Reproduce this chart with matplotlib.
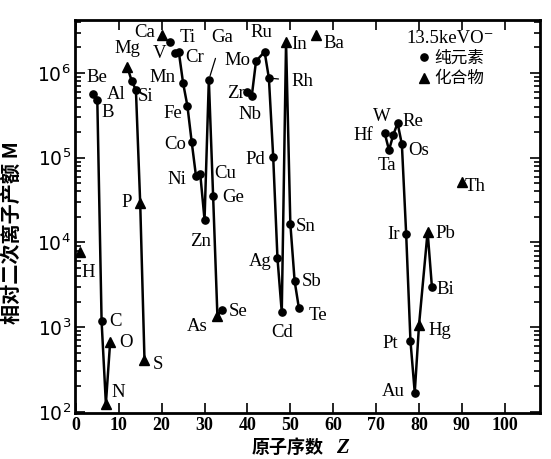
import matplotlib
matplotlib.use('Agg')
import matplotlib.pyplot as plt
from matplotlib.lines import Line2D
from matplotlib.ticker import LogLocator, FixedLocator

# ---------------- data ----------------
elements = ['H', 'Be', 'B', 'C', 'N', 'O', 'Mg', 'Al', 'Si', 'P', 'S',
            'Ca', 'Ti', 'V', 'Cr', 'Mn', 'Fe', 'Co', 'Ni', 'Cu', 'Zn', 'Ga', 'Ge', 'As', 'Se',
            'Zr', 'Nb', 'Mo', 'Ru', 'Rh', 'Pd', 'Ag', 'Cd', 'In', 'Sn', 'Sb', 'Te',
            'Ba', 'Hf', 'Ta', 'W', 'Re', 'Os', 'Ir', 'Pt', 'Au', 'Hg', 'Pb', 'Bi', 'Th']
z = [1, 4, 5, 6, 7, 8, 12, 13, 14, 15, 16,
     20, 22, 23, 24, 25, 26, 27, 28, 29, 30, 31, 32, 33, 34,
     40, 41, 42, 44, 45, 46, 47, 48, 49, 50, 51, 52,
     56, 72, 73, 74, 75, 76, 77, 78, 79, 80, 82, 83, 90]
m = [7.8e3, 5.7e5, 4.8e5, 1.17e3, 1.25e2, 6.75e2, 1.18e6, 8.1e5, 6.3e5, 2.9e4, 4.1e2,
     2.8e6, 2.3e6, 1.74e6, 1.77e6, 7.6e5, 4.1e5, 1.54e5, 6.1e4, 6.4e4, 1.85e4, 8.3e5, 3.5e4, 1.35e3, 1.6e3,
     6.0e5, 5.3e5, 1.38e6, 1.78e6, 8.7e5, 1.03e5, 6.5e3, 1.5e3, 2.3e6, 1.66e4, 3.5e3, 1.67e3,
     2.8e6, 1.95e5, 1.23e5, 1.86e5, 2.56e5, 1.44e5, 1.26e4, 6.9e2, 1.69e2, 1.06e3, 1.34e4, 3.0e3, 5.2e4]
compounds = ['H', 'N', 'O', 'Mg', 'P', 'S', 'Ca', 'As', 'In', 'Ba', 'Hg', 'Pb', 'Th']
chains = [
    ['Be', 'B', 'C', 'N', 'O'],
    ['Mg', 'Al', 'Si', 'P', 'S'],
    ['V', 'Cr', 'Mn', 'Fe', 'Co', 'Ni', 'Cu', 'Zn', 'Ga', 'Ge', 'As', 'Se'],
    ['Zr', 'Nb', 'Mo', 'Ru', 'Rh', 'Pd', 'Ag', 'Cd', 'In', 'Sn', 'Sb', 'Te'],
    ['Hf', 'Ta', 'W', 'Re', 'Os', 'Ir', 'Pt', 'Au', 'Hg', 'Pb', 'Bi'],
]
x_ticks = [0, 10, 20, 30, 40, 50, 60, 70, 80, 90, 100]
beam_label = '13.5keVO⁻'
legend_labels = ['纯元素', '化合物']
x_title = '原子序数'
x_symbol = 'Z'
y_title = '相对二次离子产额 M'

# ---------------- style ----------------
# label offsets in pixels (dx right, dy down)
offsets = {
    'H': (8, 21), 'Be': (4, -16), 'B': (10, 13), 'C': (14, 0), 'N': (12, -11), 'O': (16, 1),
    'Mg': (0, -18), 'Al': (-15, 14), 'Si': (10, 7), 'P': (-13, -1), 'S': (13, 5),
    'Ca': (-17, -3), 'Ti': (17, -5), 'V': (-15, 1), 'Cr': (16, 6), 'Mn': (-21, -6),
    'Fe': (-15, 8), 'Co': (-16, 3), 'Ni': (-19, 4), 'Cu': (25, -1), 'Zn': (-4, 22),
    'Ga': (13, -42), 'Ge': (20, 1), 'As': (-20, 10), 'Se': (16, 2),
    'Zr': (-12, 2), 'Nb': (-2, 18), 'Mo': (-19, -1), 'Ru': (-3, -19), 'Rh': (33, 3),
    'Pd': (-18, 3), 'Ag': (-17, 3), 'Cd': (0, 20), 'In': (13, 2), 'Sn': (15, 3),
    'Sb': (17, 0), 'Te': (19, 7), 'Ba': (18, 8), 'Hf': (-21, 2), 'Ta': (-2, 15),
    'W': (-11, -18), 'Re': (15, -2), 'Os': (17, 6), 'Ir': (-13, 1), 'Pt': (-20, 3),
    'Au': (-21, -1), 'Hg': (21, 5), 'Pb': (18, 2), 'Bi': (13, 3), 'Th': (13, 5),
}
leaders = ['Ga', 'Rh']
PX = 0.72  # points per pixel at dpi 100

plt.rcParams['mathtext.fontset'] = 'stix'
serif = ['Liberation Serif', 'DejaVu Serif', 'DejaVu Sans']
cjk = ['Noto Sans CJK SC', 'DejaVu Sans']

fig = plt.figure(figsize=(5.51, 4.59), dpi=100)
ax = fig.add_axes([75 / 551, 1 - 413 / 459, 465 / 551, 393 / 459])

idx = {e: i for i, e in enumerate(elements)}

for ch in chains:
    ax.plot([z[idx[e]] for e in ch], [m[idx[e]] for e in ch], color='black', lw=1.8,
            solid_joinstyle='round', zorder=2)

pure_z = [z[i] for i, e in enumerate(elements) if e not in compounds]
pure_m = [m[i] for i, e in enumerate(elements) if e not in compounds]
comp_z = [z[i] for i, e in enumerate(elements) if e in compounds]
comp_m = [m[i] for i, e in enumerate(elements) if e in compounds]
ax.plot(pure_z, pure_m, 'o', color='black', ms=5.2, zorder=3)
ax.plot(comp_z, comp_m, '^', color='black', ms=7.5, zorder=3)

for i, e in enumerate(elements):
    dx, dy = offsets[e]
    kw = {}
    if e in leaders:
        kw = dict(arrowprops=dict(arrowstyle='-', color='black', lw=0.9,
                                  shrinkA=7, shrinkB=3))
    ax.annotate(e, (z[i], m[i]), xytext=(dx * PX, -dy * PX), textcoords='offset points',
                ha='center', va='center', fontsize=13.5, family=serif, zorder=4, **kw)

ax.set_yscale('log')
ax.set_xlim(-0.2, 108.2)
ax.set_ylim(97, 4.22e6)
ax.xaxis.set_major_locator(FixedLocator(x_ticks))
ax.yaxis.set_major_locator(LogLocator(base=10, numticks=10))
ax.yaxis.set_minor_locator(LogLocator(base=10, subs=range(2, 10), numticks=20))
ax.tick_params(which='both', direction='in', top=True, right=True, width=1.2)
ax.tick_params(which='major', length=7)
ax.tick_params(which='minor', length=4)
ax.tick_params(axis='x', labelsize=13, pad=3)
ax.tick_params(axis='y', labelsize=13.5, pad=3)
for lab in ax.get_xticklabels():
    lab.set_family(serif)
    lab.set_fontweight('bold')
for s in ax.spines.values():
    s.set_linewidth(2)

ax.set_xlabel(x_title, family=cjk, fontsize=13, fontweight='bold')
ax.xaxis.set_label_coords((288 - 75) / 465, -0.063)
ax.text((342 - 75) / 465, -0.063, x_symbol, transform=ax.transAxes, family=serif,
        fontsize=15, fontweight='bold', fontstyle='italic', ha='center', va='top')
ax.set_ylabel(y_title, family=cjk, fontsize=14.5, fontweight='bold')
ax.yaxis.set_label_coords(-0.115, 0.46)

handles = [Line2D([], [], marker='o', ls='none', color='black', ms=5.2),
           Line2D([], [], marker='^', ls='none', color='black', ms=7.5)]
leg = ax.legend(handles, legend_labels, title=beam_label, loc='upper right',
                bbox_to_anchor=(0.925, 1.005), frameon=False, handletextpad=0.1,
                handlelength=1.0, borderaxespad=0.3, labelspacing=0.2,
                prop={'family': cjk, 'size': 12})
leg.get_title().set_fontfamily(serif)
leg.get_title().set_fontsize(13.5)

fig.savefig('out.png', dpi=100)
